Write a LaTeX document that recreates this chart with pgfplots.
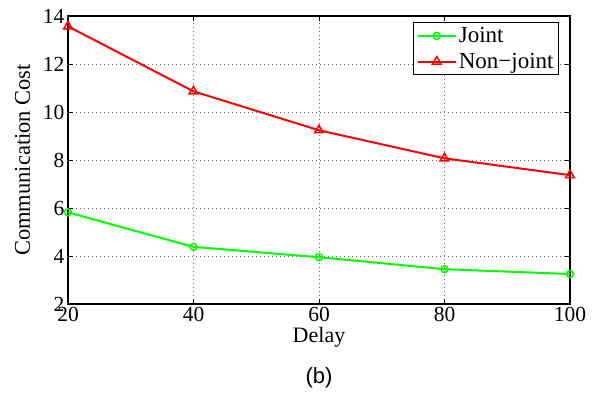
\documentclass[border=0pt]{standalone}
\usepackage{pgfplots}
\pgfplotsset{compat=1.18}
\usepackage{fontspec}
\setmainfont{Liberation Serif}
\newfontfamily\arialfont{Liberation Sans}
\newfontfamily\timesfont{Liberation Serif}
\usetikzlibrary{calc}
\definecolor{mgreen}{RGB}{0,255,0}
\definecolor{mred}{RGB}{255,0,0}
\begin{document}
\begin{tikzpicture}
\begin{axis}[
  scale only axis,
  width=502bp, height=288bp,
  xmin=20, xmax=100, ymin=2, ymax=14,
  xtick={20,40,60,80,100},
  ytick={2,4,6,8,10,12,14},
  xticklabels={\textrm{\timesfont 20},\textrm{\timesfont 40},\textrm{\timesfont 60},\textrm{\timesfont 80},\textrm{\timesfont 100}},
  yticklabels={\textrm{\timesfont 2},\textrm{\timesfont 4},\textrm{\timesfont 6},\textrm{\timesfont 8},\textrm{\timesfont 10},\textrm{\timesfont 12},\textrm{\timesfont 14}},
  tick align=inside,
  tick pos=both,
  major tick length=5bp,
  tick style={black, line width=0.7bp},
  axis line style={black, line width=1.2bp},
  grid=major,
  major grid style={black!60, line width=0.7bp, dash pattern=on 0.8bp off 3.2bp},
  tick label style={font=\timesfont\fontsize{21.5bp}{24bp}\selectfont},
  xlabel={Delay},
  ylabel={Communication Cost},
  xlabel style={font=\fontsize{22bp}{24bp}\selectfont, yshift=2bp},
  ylabel style={font=\fontsize{22.5bp}{24bp}\selectfont, yshift=6bp},
  legend style={at={(rel axis cs:0.978,0.979)}, anchor=north east,
    draw=black, line width=0.8bp,
    inner sep=3bp, row sep=5bp,
    nodes={font=\fontsize{23bp}{25bp}\selectfont, inner sep=2bp}},
  legend cell align=left,
  legend image code/.code={
    \draw[mark repeat=2,mark phase=2,#1] plot coordinates {(0bp,0bp) (19bp,0bp) (38bp,0bp)};
  },
]
\addplot[color=mgreen, line width=2bp, mark=o, mark size=3.5bp, mark options={line width=1.5bp}]
  coordinates {(20,5.82) (40,4.38) (60,3.95) (80,3.45) (100,3.25)};
\addlegendentry{Joint}
\addplot[color=mred, line width=2bp, mark=triangle, mark size=5bp, mark options={line width=1.5bp}]
  coordinates {(20,13.57) (40,10.86) (60,9.24) (80,8.07) (100,7.37)};
\addlegendentry{Non\textminus joint}
\end{axis}
\node[font=\arialfont\fontsize{22bp}{24bp}\selectfont] at ($(current axis.south)+(0,-74bp)$) {(b)};
\path[use as bounding box] ($(current axis.south west)+(-68bp,-94bp)$) rectangle ($(current axis.north east)+(27bp,16bp)$);
\end{tikzpicture}
\end{document}
